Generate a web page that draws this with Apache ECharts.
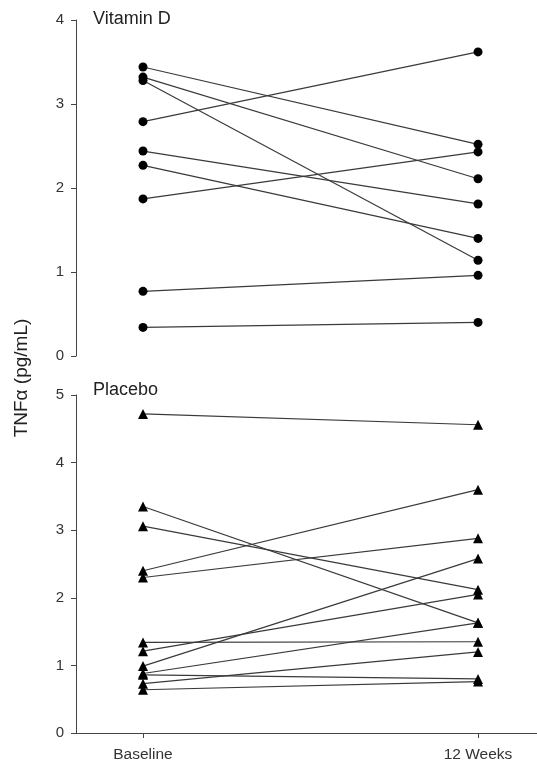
<!DOCTYPE html>
<html>
<head>
<meta charset="utf-8">
<script src="https://cdn.jsdelivr.net/npm/echarts@6/dist/echarts.min.js"></script>
<style>
  html, body { margin: 0; padding: 0; background: #fff; }
  #chart { width: 537px; height: 769px; }
</style>
</head>
<body>
<div id="chart"></div>
<script>
// time points (x = 1, 2)
const timeLabels = ['Baseline', '12 Weeks'];
const timeX = [1, 2];

// Vitamin D group, TNFa (pg/mL)
const vitBaseline = [3.44, 3.32, 3.28, 2.79, 2.44, 2.27, 1.87, 0.77, 0.34];
const vitWeek12   = [2.52, 2.11, 1.14, 3.62, 1.81, 1.40, 2.43, 0.96, 0.40];

// Placebo group, TNFa (pg/mL)
const plaBaseline = [4.72, 3.35, 3.06, 2.40, 2.30, 1.34, 1.21, 0.99, 0.88, 0.86, 0.73, 0.64];
const plaWeek12   = [4.56, 1.63, 2.12, 3.60, 2.88, 1.35, 2.05, 2.58, 1.63, 0.80, 1.20, 0.76];

const yTicksTop = [0, 1, 2, 3, 4];
const yTicksBottom = [0, 1, 2, 3, 4, 5];

const FONT = '"Liberation Sans", Arial, sans-serif';
const AXIS_COLOR = '#444';
const LABEL_COLOR = '#333';

const chart = echarts.init(document.getElementById('chart'), null, { renderer: 'canvas' });

// one line series per subject
function pairSeries(base, week, gridIdx, symbol, size) {
  var out = [];
  for (var i = 0; i < base.length; i++) {
    out.push({
      type: 'line',
      xAxisIndex: gridIdx,
      yAxisIndex: gridIdx,
      data: [[timeX[0], base[i]], [timeX[1], week[i]]],
      symbol: symbol,
      symbolSize: size,
      showSymbol: true,
      silent: true,
      animation: false,
      itemStyle: { color: '#000', borderWidth: 0 },
      lineStyle: { color: '#3a3a3a', width: 1.2 },
      z: 2
    });
  }
  return out;
}

function yAxisFor(gridIdx, ticks) {
  return {
    type: 'value',
    gridIndex: gridIdx,
    min: ticks[0],
    max: ticks[ticks.length - 1],
    interval: 1,
    splitLine: { show: false },
    axisLine: { show: true, lineStyle: { color: AXIS_COLOR, width: 1 } },
    axisTick: { show: true, length: 5, lineStyle: { color: AXIS_COLOR } },
    axisLabel: { color: LABEL_COLOR, fontSize: 15, fontFamily: FONT, margin: 12 }
  };
}

function xAxisFor(gridIdx, visible) {
  return {
    type: 'value',
    gridIndex: gridIdx,
    min: 0.8,
    max: 2.176,
    show: visible,
    splitLine: { show: false },
    axisLine: { show: visible, onZero: false, lineStyle: { color: AXIS_COLOR, width: 1 } },
    axisTick: { show: visible, length: 5, customValues: timeX, lineStyle: { color: AXIS_COLOR } },
    axisLabel: {
      show: visible,
      customValues: timeX,
      color: LABEL_COLOR,
      fontSize: 15.5,
      fontFamily: FONT,
      margin: 14,
      formatter: function (v) { return timeLabels[timeX.indexOf(v)] || ''; }
    }
  };
}

const option = {
  backgroundColor: '#fff',
  animation: false,
  grid: [
    { left: 76, top: 20, width: 461, height: 336 },
    { left: 76, top: 395, width: 461, height: 338 }
  ],
  xAxis: [xAxisFor(0, false), xAxisFor(1, true)],
  yAxis: [yAxisFor(0, yTicksTop), yAxisFor(1, yTicksBottom)],
  graphic: [
    {
      type: 'text', left: 93, top: 10,
      style: { text: 'Vitamin D', fontSize: 18, fontFamily: FONT, fill: '#222' }
    },
    {
      type: 'text', left: 93, top: 381,
      style: { text: 'Placebo', fontSize: 18, fontFamily: FONT, fill: '#222' }
    },
    {
      type: 'text', x: 22, y: 378, rotation: Math.PI / 2,
      style: { text: 'TNFα (pg/mL)', fontSize: 19, fontFamily: FONT, fill: '#222',
               align: 'center', verticalAlign: 'middle' }
    }
  ],
  series: pairSeries(vitBaseline, vitWeek12, 0, 'circle', 9)
    .concat(pairSeries(plaBaseline, plaWeek12, 1, 'triangle', 10))
};

chart.setOption(option);
</script>
</body>
</html>
